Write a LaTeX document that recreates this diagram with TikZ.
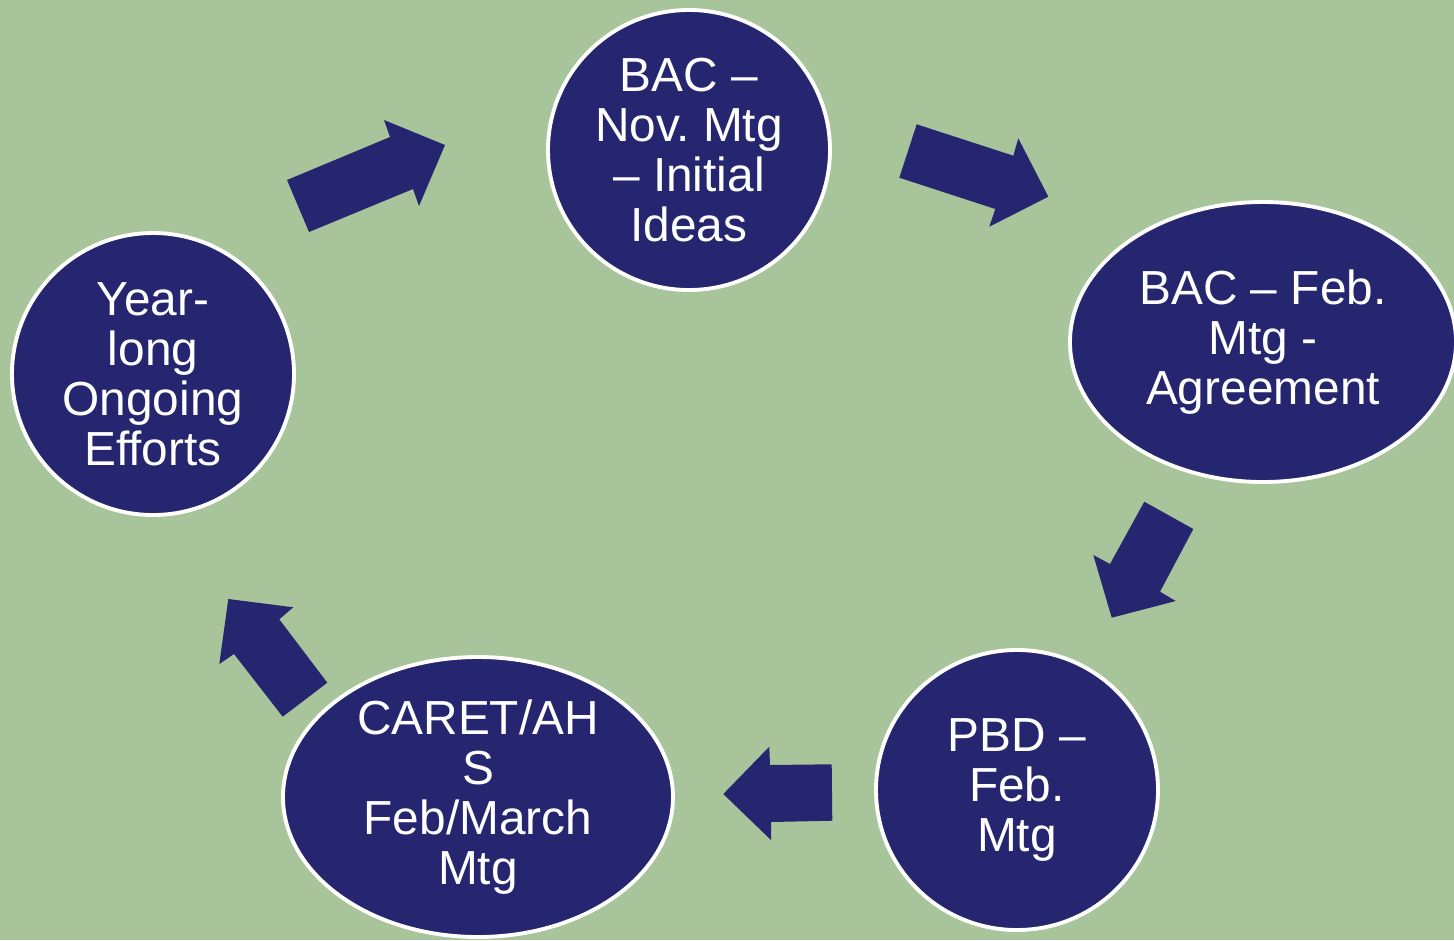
\documentclass[tikz,border=0pt]{standalone}
\usepackage{fontspec}
\setmainfont{Liberation Sans}
\usetikzlibrary{shapes.geometric}
\definecolor{bg}{RGB}{167,196,155}
\definecolor{navy}{RGB}{38,38,112}
\frenchspacing
\tikzset{
  stage/.style={ellipse, draw=white, line width=5.5pt, fill=navy, text=white,
    inner sep=0pt, align=center, font=\fontsize{68}{71}\selectfont\frenchspacing},
  blockarrow/.style={fill=navy, draw=none}
}
\begin{document}
\begin{tikzpicture}[x=0.05cm,y=-0.05cm]
\fill[bg] (0,0) rectangle (1454,940);
\useasboundingbox (0,0) rectangle (1454,940);
\node[stage, minimum width=282*0.05cm, minimum height=280*0.05cm] (nov) at (689,150) {BAC –\\Nov. Mtg\\– Initial\\Ideas};
\node[stage, minimum width=386*0.05cm, minimum height=280*0.05cm] (febbac) at (1263,342) {BAC – Feb.\\Mtg -\\Agreement};
\node[stage, minimum width=282*0.05cm, minimum height=280*0.05cm] (pbd) at (1017,790) {PBD –\\Feb.\\Mtg};
\node[stage, minimum width=390*0.05cm, minimum height=280*0.05cm] (caret) at (478,797) {CARET/AH\\S\\Feb/March\\Mtg};
\node[stage, minimum width=282*0.05cm, minimum height=282*0.05cm] (year) at (153,374) {Year-\\long\\Ongoing\\Efforts};
% block arrows
\fill[blockarrow] (287,180) -- (390,137) -- (384,120) -- (445,145) -- (419,206) -- (413,189) -- (309,232) -- cycle;
\fill[blockarrow] (916.7,124.3) -- (1013.3,155.7) -- (1018.3,138.3) -- (1048.3,196.7) -- (989.3,226.7) -- (995.3,209) -- (899.3,177.7) -- cycle;
\fill[blockarrow] (1144.3,501.7) -- (1193.3,529) -- (1160,591.7) -- (1175.7,601) -- (1111.7,617.7) -- (1093.3,555) -- (1110,564) -- cycle;
\fill[blockarrow] (723.3,794) -- (769.3,746.7) -- (770,765) -- (831.7,764.3) -- (832.3,820.7) -- (771,822) -- (771,840) -- cycle;
\fill[blockarrow] (228.3,599) -- (293.3,607.3) -- (279.3,619.3) -- (327.3,682.7) -- (282.7,716.7) -- (234,654) -- (219.3,664) -- cycle;
\end{tikzpicture}
\end{document}
